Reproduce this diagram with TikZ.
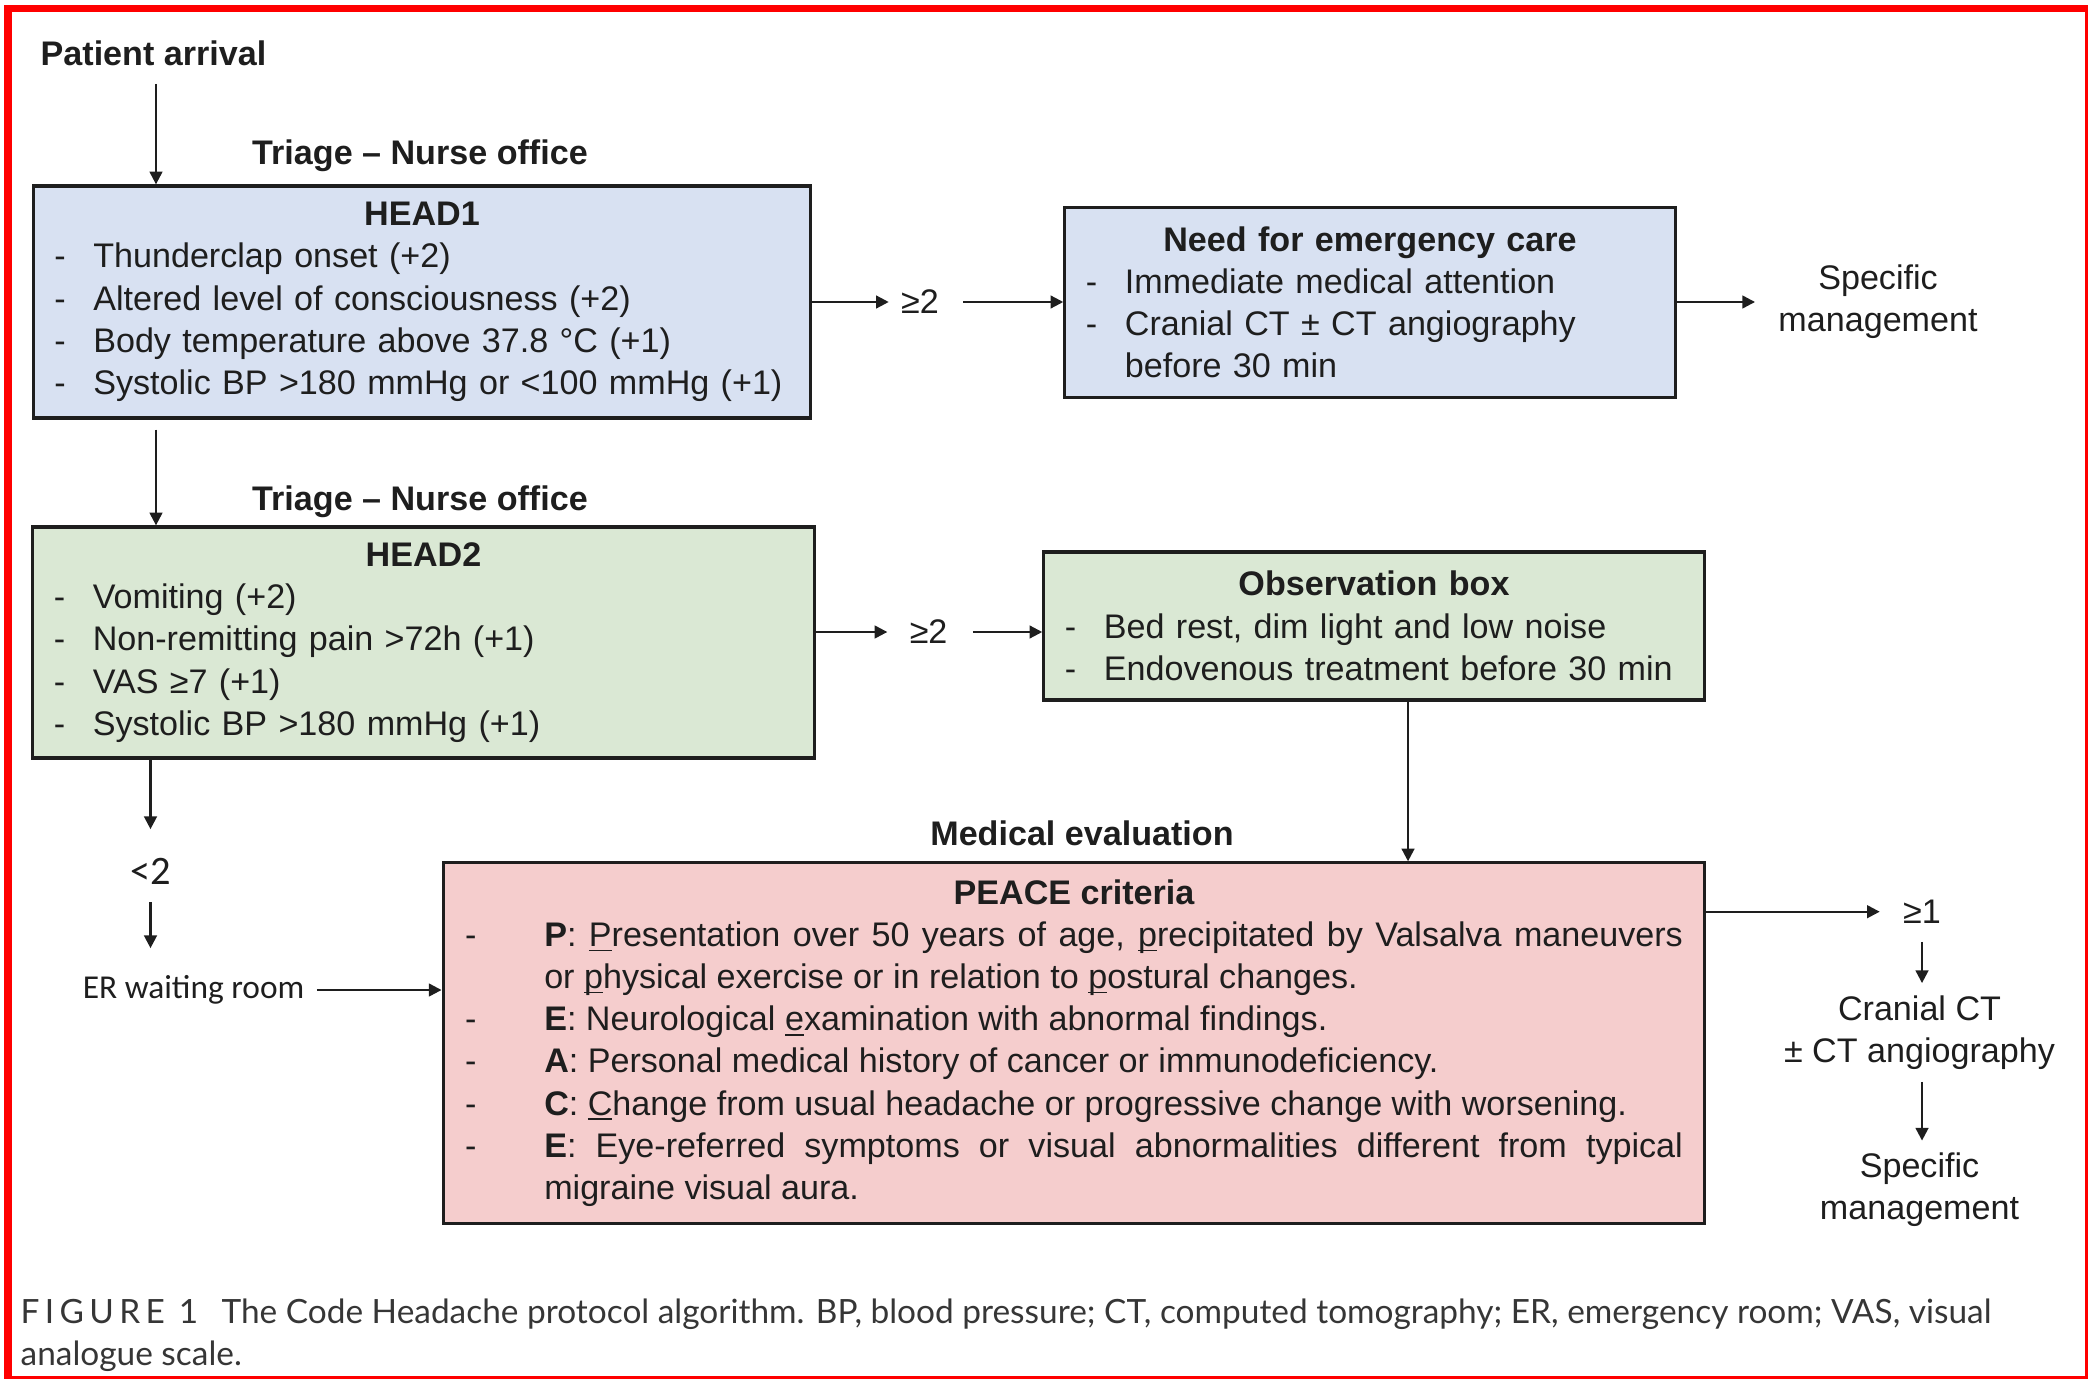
\documentclass[tikz,border=0pt]{standalone}
\usepackage{fontspec}
\setmainfont{Liberation Sans}
\newfontfamily\calibrifont{Carlito}
\newfontfamily\captionfont{Lato}
\usetikzlibrary{arrows.meta,positioning}

\definecolor{headblue}{HTML}{D8E1F2}
\definecolor{headgreen}{HTML}{DAE8D4}
\definecolor{peacepink}{HTML}{F5CDCD}
\definecolor{inkgray}{HTML}{1E1E1E}
\definecolor{captiongray}{HTML}{363636}

\newcommand{\mainsize}{\fontsize{9.7pt}{12pt}\selectfont}
\newlength{\dashgap}
\setlength{\dashgap}{11.1pt}
\newcommand{\crit}[1]{\par\hangindent=\dashgap\hangafter=1\makebox[\dashgap][l]{-}#1\par}
\newcommand{\boxtitle}[1]{\centerline{\bfseries #1}}
\newcommand{\uln}[1]{\setbox0\hbox{#1}\rlap{\rule[-1.4pt]{\wd0}{0.45pt}}#1}

\begin{document}
\begin{tikzpicture}[x=0.01cm, y=-0.01cm,
    every node/.style={text=inkgray, font=\mainsize},
    critbox/.style={draw=inkgray, line width=0.9pt, inner xsep=0.21cm, inner ysep=0pt, align=left,
        execute at begin node={\hyphenpenalty=10000\exhyphenpenalty=10000}},
    heading/.style={font=\mainsize\bfseries},
    note/.style={font=\calibrifont\fontsize{9.5pt}{12pt}\selectfont},
    arr/.style={draw=inkgray, line width=0.65pt, -{Triangle[length=3.6pt, width=3.6pt]}}]
    \useasboundingbox (0,0) rectangle (2088,1379);
    \clip (0,0) rectangle (2088,1379);

    % Frame
    \draw[red, line width=0.075cm] (8,8.5) rectangle (2088.8,1379.8);

    % Triage column
    \node[heading] (arrival) at (153.5,53) {Patient arrival};
    \node[heading] (triage1) at (420,156) {Triage -- Nurse office};
    \node[critbox, fill=headblue, minimum width=7.77cm, minimum height=2.32cm, text width=7.35cm] (head1) at (422,302) {%
        \boxtitle{HEAD1}
        \crit{Thunderclap onset (+2)}
        \crit{Altered level of consciousness (+2)}
        \crit{Body temperature above 37.8 °C (+1)}
        \crit{Systolic BP >180 mmHg or <100 mmHg (+1)}};
    \node[heading] (triage2) at (420,502) {Triage -- Nurse office};
    \node[critbox, fill=headgreen, minimum width=7.81cm, minimum height=2.31cm, text width=7.39cm] (head2) at (423.5,642.5) {%
        \boxtitle{HEAD2}
        \crit{Vomiting (+2)}
        \crit{Non-remitting pain >72h (+1)}
        \crit{VAS ≥7 (+1)}
        \crit{Systolic BP >180 mmHg (+1)}};
    \node[note, font=\calibrifont\fontsize{11.5pt}{12pt}\selectfont] (lt2) at (150.5,871.7) {<2};
    \node[note] (erwait) at (193.6,990) {ER waiting room};

    % Emergency branch
    \node (ge2a) at (920,302) {≥2};
    \node[critbox, fill=headblue, minimum width=6.10cm, minimum height=1.90cm, text width=5.68cm] (emerg) at (1370,302.5) {%
        \boxtitle{Need for emergency care}
        \crit{Immediate medical attention}
        \crit{Cranial CT ± CT angiography before 30 min}};
    \node[align=center] (spec1) at (1878,302) {Specific\\management};

    % Observation branch
    \node (ge2b) at (928.6,632) {≥2};
    \node[critbox, fill=headgreen, minimum width=6.60cm, minimum height=1.48cm, text width=6.18cm] (obs) at (1374,626) {%
        \boxtitle{Observation box}
        \crit{Bed rest, dim light and low noise}
        \crit{Endovenous treatment before 30 min}};

    % Medical evaluation
    \node[heading] (medeval) at (1082,833) {Medical evaluation};
    \node[critbox, fill=peacepink, inner xsep=0.22cm, minimum width=12.61cm, minimum height=3.60cm, text width=12.17cm, align=justify] (peace) at (1074,1043) {%
        \setlength{\dashgap}{22.5pt}%
        \boxtitle{PEACE criteria}
        \crit{\textbf{P}: \uln{P}resentation over 50 years of age, \uln{p}recipitated by Valsalva maneuvers\linebreak or \uln{p}hysical exercise or in relation to \uln{p}ostural changes.}
        \crit{\textbf{E}: Neurological \uln{e}xamination with abnormal findings.}
        \crit{\textbf{A}: Personal medical history of cancer or immunodeficiency.}
        \crit{\textbf{C}: \uln{C}hange from usual headache or progressive change with worsening.}
        \crit{\textbf{E}: Eye-referred symptoms or visual abnormalities different from typical\linebreak migraine visual aura.}};
    \node (ge1) at (1922,911.7) {≥1};
    \node[align=center] (cranial) at (1919.5,1032.5) {Cranial CT\\± CT angiography};
    \node[align=center] (spec2) at (1919.5,1190) {Specific\\management};

    % Arrows
    \coordinate (trunk) at (156,0);
    \draw[arr, shorten <=0.06cm] (arrival.south -| trunk) -- (head1.north -| trunk);
    \draw[arr, shorten <=0.1cm] (head1.south -| trunk) -- (head2.north -| trunk);
    \draw[arr, shorten >=0.17cm] (head2.south -| lt2) -- (lt2);
    \draw[arr, shorten <=0.05cm, shorten >=0.15cm] (lt2) -- (lt2 |- erwait.north);
    \draw[arr] (erwait.east) -- (erwait.east -| peace.west);
    \draw[arr] (head1.east |- ge2a) -- (ge2a);
    \draw[arr, shorten <=0.12cm] (ge2a) -- (ge2a -| emerg.west);
    \draw[arr, shorten >=0.11cm] (emerg.east |- spec1) -- (spec1);
    \draw[arr, shorten >=0.1cm] (head2.east |- ge2b) -- (ge2b);
    \draw[arr, shorten <=0.13cm] (ge2b) -- (ge2b -| obs.west);
    \draw[arr] ([xshift=0.34cm]obs.south) -- ([xshift=0.34cm]obs.south |- peace.north);
    \draw[arr, shorten >=0.11cm] (ge1 -| peace.east) -- (ge1);
    \draw[arr, shorten <=0.06cm] (ge1) -- (ge1 |- cranial.north);
    \draw[arr] (cranial.south -| ge1) -- (spec2.north -| ge1);

    % Caption
    \node[anchor=north west, inner sep=0pt, align=left, text=captiongray, font=\captionfont\fontsize{9.5pt}{12pt}\selectfont] (caption) at (20,1298) {%
        {\addfontfeatures{LetterSpace=16}FIGURE 1}\hspace{0.7em}The Code Headache protocol algorithm. BP, blood pressure; CT, computed tomography; ER, emergency room; VAS, visual\\
        analogue scale.};
\end{tikzpicture}
\end{document}
